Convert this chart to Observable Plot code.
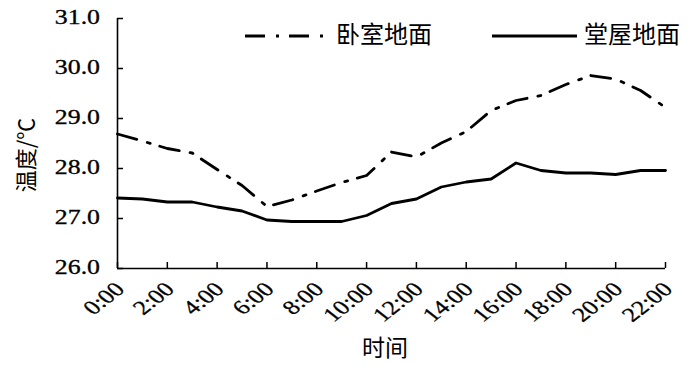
<!DOCTYPE html>
<html><head><meta charset="utf-8">
<script src="https://cdn.jsdelivr.net/npm/d3@7"></script>
<script src="https://cdn.jsdelivr.net/npm/@observablehq/plot@0.6"></script>
<style>
body{margin:0;background:#fff;}
#wrap{position:relative;width:700px;height:366px;overflow:hidden;}
.cjk{font-family:"Noto Sans CJK SC";position:absolute;color:#000;white-space:nowrap;line-height:1;}
</style></head><body><div id="wrap"></div>
<script>
const hours = [0,1,2,3,4,5,6,7,8,9,10,11,12,13,14,15,16,17,18,19,20,21,22];
const bedroom = [28.69,28.55,28.40,28.31,27.98,27.66,27.24,27.37,27.55,27.72,27.86,28.33,28.23,28.51,28.74,29.16,29.36,29.46,29.68,29.86,29.79,29.56,29.22];
const hall = [27.41,27.39,27.33,27.33,27.23,27.15,26.97,26.94,26.94,26.94,27.06,27.30,27.39,27.63,27.73,27.79,28.11,27.96,27.91,27.91,27.88,27.96,27.96];
const seriesNames = ["卧室地面","堂屋地面"];
const xTicks = [0,2,4,6,8,10,12,14,16,18,20,22];
const xTickLabels = ["0:00","2:00","4:00","6:00","8:00","10:00","12:00","14:00","16:00","18:00","20:00","22:00"];
const yTicks = [26,27,28,29,30,31];
const xTitle = "时间";
const yTitle = "温度/℃";

const rows = [];
hours.forEach((h,i)=>{
  rows.push({h, v: bedroom[i], s: seriesNames[0]});
  rows.push({h, v: hall[i], s: seriesNames[1]});
});
const dashDot = "20,11,3,10";

const chart = Plot.plot({
  width: 700, height: 366,
  marginLeft: 117, marginRight: 35, marginTop: 18, marginBottom: 98,
  style: {fontFamily: "Liberation Serif", fontSize: "20px", color: "#000", background: "#fff"},
  x: {domain: [0,22]},
  y: {domain: [26,31]},
  marks: [
    Plot.axisY({ticks: yTicks, tickFormat: d => d.toFixed(1), tickSize: -6, tickPadding: 23, label: null, strokeWidth: 1.5, fontSize: 20}),
    Plot.axisX({ticks: xTicks, tickFormat: d => xTickLabels[xTicks.indexOf(d)], tickSize: -6, tickPadding: 20, tickRotate: -45, label: null, strokeWidth: 1.5, fontSize: 20}),
    Plot.ruleX([0], {strokeWidth: 1.6}),
    Plot.ruleY([26], {strokeWidth: 1.6}),
    Plot.line(rows.filter(d=>d.s===seriesNames[0]), {x:"h", y:"v", stroke:"#000", strokeWidth: 2.8, strokeDasharray: dashDot}),
    Plot.line(rows.filter(d=>d.s===seriesNames[1]), {x:"h", y:"v", stroke:"#000", strokeWidth: 2.8})
  ]
});
const wrap = document.getElementById("wrap");
wrap.appendChild(chart);

// widen tick labels like the reference's stretched type
const xs = chart.scale("x"), ys = chart.scale("y");
const stretch = 1.29;
const xg = chart.querySelector('g[aria-label="x-axis tick label"]');
if (xg) {
  xg.removeAttribute("transform");
  xg.setAttribute("text-anchor", "end");
  xg.querySelectorAll("text").forEach((t, i) => {
    t.removeAttribute("x"); t.removeAttribute("y");
    t.setAttribute("dy", "0.32em");
    t.setAttribute("text-anchor", "end");
    t.setAttribute("stroke", "#000"); t.setAttribute("stroke-width", "0.3");
    t.setAttribute("transform", `translate(${xs.apply(xTicks[i]) + 3},${ys.apply(26) + 18}) scale(${stretch},1) rotate(-45)`);
  });
}
const yg = chart.querySelector('g[aria-label="y-axis tick label"]');
if (yg) {
  yg.removeAttribute("transform");
  yg.setAttribute("text-anchor", "end");
  yg.querySelectorAll("text").forEach((t, i) => {
    t.removeAttribute("x"); t.removeAttribute("y");
    t.setAttribute("dy", "0.32em");
    t.setAttribute("text-anchor", "end");
    t.setAttribute("stroke", "#000"); t.setAttribute("stroke-width", "0.3");
    t.setAttribute("transform", `translate(${xs.apply(0) - 17},${ys.apply(yTicks[i])}) scale(${stretch},1)`);
  });
}

// legend
const leg = document.createElement("div");
leg.style.cssText = "position:absolute;left:0;top:0;width:700px;height:60px;";
leg.innerHTML = `
<svg width="700" height="60" style="position:absolute;left:0;top:0">
  <line x1="245" x2="328" y1="36" y2="36" stroke="#000" stroke-width="2.8" stroke-dasharray="${dashDot}"/>
  <line x1="492" x2="577" y1="36" y2="36" stroke="#000" stroke-width="2.8"/>
</svg>
<div class="cjk" style="left:336px;top:21px;font-size:24px">${seriesNames[0]}</div>
<div class="cjk" style="left:584px;top:21px;font-size:24px">${seriesNames[1]}</div>`;
wrap.appendChild(leg);

const xt = document.createElement("div");
xt.className = "cjk";
xt.style.cssText = "left:362px;top:335px;font-size:23px;";
xt.textContent = xTitle;
wrap.appendChild(xt);

const yt = document.createElement("div");
yt.className = "cjk";
yt.style.cssText = "left:24px;top:155px;font-size:22px;transform:translate(-50%,-50%) rotate(-90deg);";
yt.textContent = yTitle;
wrap.appendChild(yt);
</script></body></html>
